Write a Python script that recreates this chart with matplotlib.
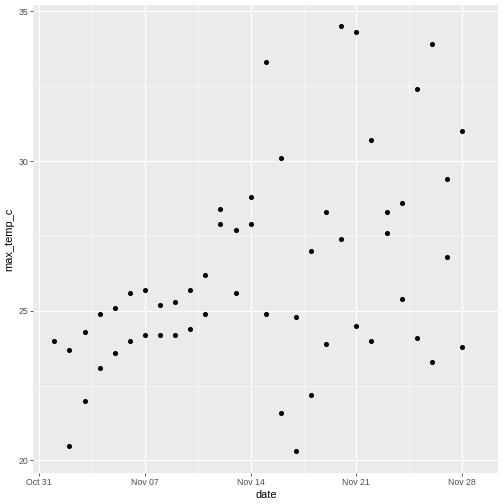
import numpy as np
import pandas as pd
import matplotlib
matplotlib.use("Agg")
import matplotlib.pyplot as plt
import matplotlib.dates as mdates

plt.rcParams['font.family'] = ['Liberation Sans', 'DejaVu Sans']

# one or two readings per day, Nov 1 .. Nov 28
days = [1, 2, 2, 3, 3, 4, 4, 5, 5, 6, 6, 7, 7, 8, 8, 9, 9, 10, 10, 11, 11,
        12, 12, 13, 13, 14, 14, 15, 15, 16, 16, 17, 17, 18, 18, 19, 19,
        20, 20, 21, 21, 22, 22, 23, 23, 24, 24, 25, 25, 26, 26, 27, 27, 28, 28]
max_temp_c = [24.0, 23.7, 20.5, 24.3, 22.0, 24.9, 23.1, 25.1, 23.6, 25.6, 24.0,
              25.7, 24.2, 25.2, 24.2, 25.3, 24.2, 25.7, 24.4, 26.2, 24.9,
              28.4, 27.9, 27.7, 25.6, 28.8, 27.9, 33.3, 24.9, 30.1, 21.6,
              24.8, 20.3, 27.0, 22.2, 28.3, 23.9, 34.5, 27.4, 34.3, 24.5,
              30.7, 24.0, 28.3, 27.6, 28.6, 25.4, 32.4, 24.1, 33.9, 23.3,
              29.4, 26.8, 31.0, 23.8]

dates = pd.to_datetime(["2023-11-%02d" % d for d in days])
df = pd.DataFrame({"date": dates, "max_temp_c": max_temp_c})

fig = plt.figure(figsize=(7, 7), dpi=72)
ax = fig.add_axes([0.066, 0.062, 0.9226, 0.928])
ax.set_facecolor("#EBEBEB")

ax.scatter(df["date"], df["max_temp_c"], s=26, color="black", zorder=3, linewidths=0)

# the date scale of the original spans Nov 1 .. Nov 29, 5% expansion
x0 = mdates.date2num(pd.Timestamp("2023-11-01"))
x1 = mdates.date2num(pd.Timestamp("2023-11-29"))
ax.set_xlim(x0 - 0.05 * (x1 - x0), x1 + 0.05 * (x1 - x0))
yr = df["max_temp_c"].max() - df["max_temp_c"].min()
ax.set_ylim(df["max_temp_c"].min() - 0.05 * yr, df["max_temp_c"].max() + 0.05 * yr)

major_dates = pd.to_datetime(["2023-10-31", "2023-11-07", "2023-11-14", "2023-11-21", "2023-11-28"])
ax.set_xticks(mdates.date2num(major_dates))
ax.set_xticklabels(["Oct 31", "Nov 07", "Nov 14", "Nov 21", "Nov 28"])
ax.set_xticks(mdates.date2num(major_dates[:-1]) + 3.5, minor=True)
ax.set_yticks([20, 25, 30, 35])
ax.set_yticks([22.5, 27.5, 32.5], minor=True)

ax.grid(which="major", color="white", linewidth=1.1)
ax.grid(which="minor", color="white", linewidth=0.55)
ax.set_axisbelow(True)
for s in ax.spines.values():
    s.set_visible(False)

ax.tick_params(which="major", length=2.75, width=0.8, color="#333333",
               labelcolor="#4D4D4D", labelsize=8.8, pad=2)
ax.tick_params(which="minor", length=0)

ax.set_xlabel("date", fontsize=11, labelpad=3)
ax.set_ylabel("max_temp_c", fontsize=11, labelpad=4)

fig.savefig("out.png", dpi=72)
